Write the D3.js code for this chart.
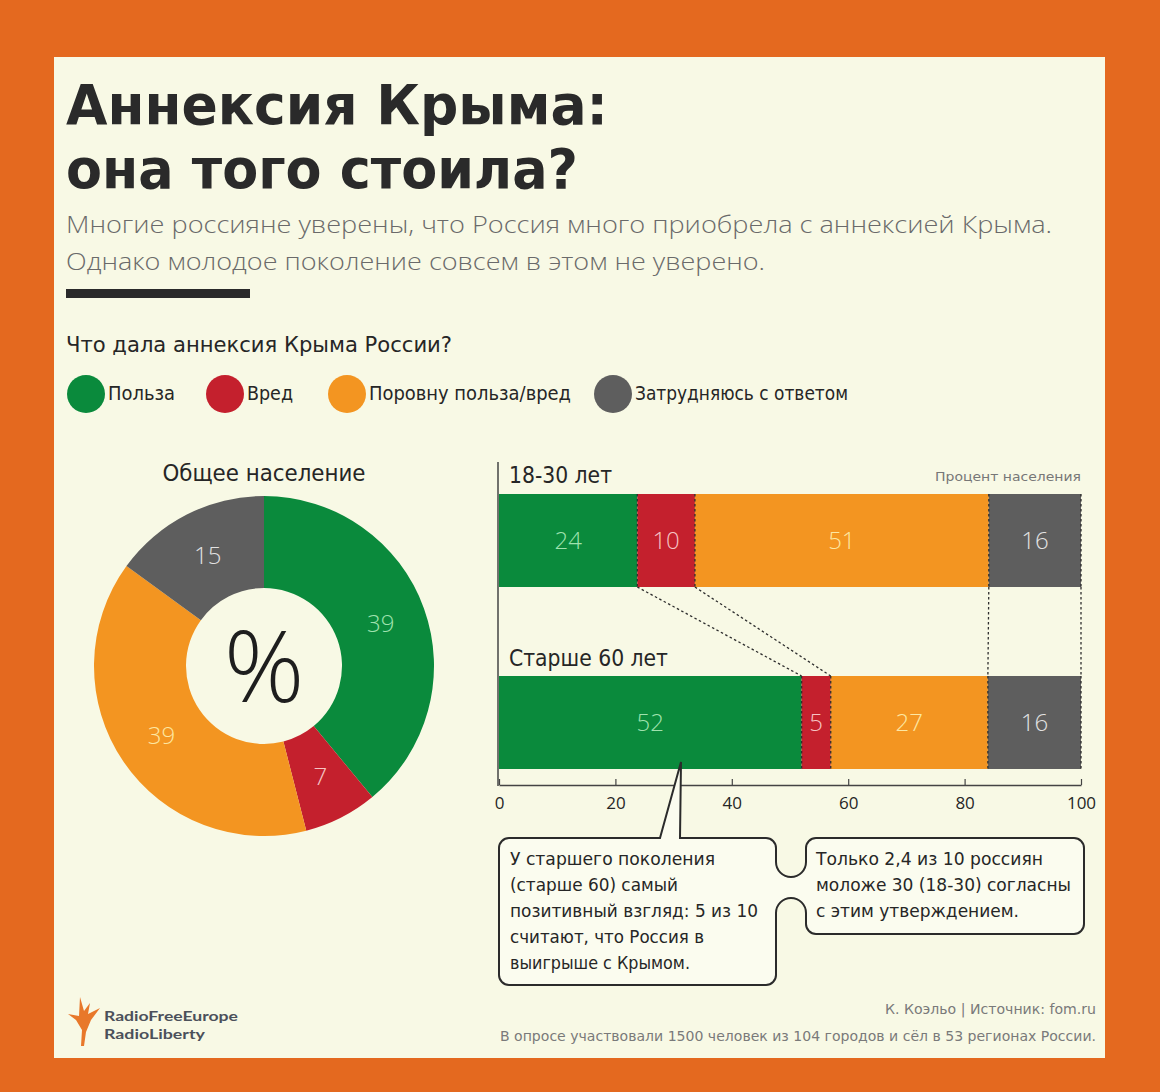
<!DOCTYPE html>
<html><head><meta charset="utf-8">
<script src="https://cdn.jsdelivr.net/npm/d3@7"></script>
<style>
html,body{margin:0;padding:0;background:#E4691F;}
svg{display:block;}
</style></head>
<body>
<script>
// ---- data ----
const categories = ["Польза", "Вред", "Поровну польза/вред", "Затрудняюсь с ответом"];
const totalValues = [39, 7, 39, 15];
const groups = ["18-30 лет", "Старше 60 лет"];
const youngValues = [24, 10, 51, 16];
const oldValues = [52, 5, 27, 16];
const tickValues = [0, 20, 40, 60, 80, 100];
const palette = ["#0A8A3C", "#C4202D", "#F39521", "#5E5E5E"];
const labelPalette = ["#9FE2AE", "#F6C3C3", "#FDE7A2", "#E2E2E2"];

const W = 1160, H = 1092;
const COND = "'Liberation Sans Narrow','DejaVu Sans Condensed','Open Sans',sans-serif";
const SANS = "'Open Sans','Noto Sans',sans-serif";
const INK = "#262626";

const svg = d3.select("body").append("svg").attr("width", W).attr("height", H);
svg.append("rect").attr("width", W).attr("height", H).attr("fill", "#E4691F");
svg.append("rect").attr("x", 54).attr("y", 57).attr("width", 1051).attr("height", 1001).attr("fill", "#F8F9E5");

function txt(x, y, s, o = {}) {
  const t = svg.append("text").attr("x", x).attr("y", y).text(s)
    .attr("font-family", o.family || COND)
    .attr("font-size", o.size || 16)
    .attr("font-weight", o.weight || 400)
    .attr("fill", o.fill || INK)
    .attr("text-anchor", o.anchor || "start");
  if (o.len) t.attr("textLength", o.len).attr("lengthAdjust", "spacingAndGlyphs");
  return t;
}

// ---- header ----
txt(66, 124, "Аннексия Крыма:", {size: 56, weight: 700, len: 542, fill: "#2a2a2a"});
txt(66, 188, "она того стоила?", {size: 56, weight: 700, len: 512, fill: "#2a2a2a"});
txt(66, 233, "Многие россияне уверены, что Россия много приобрела с аннексией Крыма.", {size: 24, len: 986, fill: "#6a6a6a", family: SANS, weight: 300});
txt(66, 270, "Однако молодое поколение совсем в этом не уверено.", {size: 24, len: 699, fill: "#6a6a6a", family: SANS, weight: 300});
svg.append("rect").attr("x", 66).attr("y", 289).attr("width", 184).attr("height", 9).attr("fill", "#2a2a2a");

txt(66, 352, "Что дала аннексия Крыма России?", {size: 21, len: 386});

// ---- legend ----
const legendX = [86, 225, 347, 613];
const legendLen = [67, 46, 202, 213];
categories.forEach((c, i) => {
  svg.append("circle").attr("cx", legendX[i]).attr("cy", 394).attr("r", 19).attr("fill", palette[i]);
  txt(legendX[i] + 22, 400, c, {size: 19, len: legendLen[i]});
});

// ---- donut ----
const cx = 264, cy = 666;
txt(cx, 481, "Общее население", {size: 23, anchor: "middle", len: 203});
const pie = d3.pie().sort(null).value(d => d);
const arc = d3.arc().innerRadius(78).outerRadius(170);
const labelArc = d3.arc().innerRadius(124).outerRadius(124);
const dg = svg.append("g").attr("transform", `translate(${cx},${cy})`);
const arcs = pie(totalValues);
dg.selectAll("path").data(arcs).join("path").attr("d", arc).attr("fill", (d, i) => palette[i]);
dg.selectAll("text").data(arcs).join("text")
  .attr("transform", d => `translate(${labelArc.centroid(d)})`)
  .attr("dy", "0.35em").attr("text-anchor", "middle")
  .attr("font-family", SANS).attr("font-weight", 300).attr("font-size", 24)
  .attr("fill", (d, i) => labelPalette[i]).text(d => d.data);
txt(cx, cy + 36, "%", {size: 100, anchor: "middle", family: SANS, weight: 300, fill: "#1e1e1e"});

// ---- stacked bars ----
const x = d3.scaleLinear().domain([0, 100]).range([499, 1081]);
const y = d3.scaleBand().domain(groups).range([494, 769]).paddingInner(0.489);
const rows = [youngValues, oldValues].map((vals, gi) => {
  const o = {group: groups[gi]};
  categories.forEach((c, i) => o[c] = vals[i]);
  return o;
});
const stack = d3.stack().keys(categories).offset(d3.stackOffsetExpand);
const series = stack(rows);
const bg = svg.append("g");
series.forEach((s, si) => {
  s.forEach(d => {
    const g = d.data.group;
    const x0 = x(d[0] * 100), x1 = x(d[1] * 100);
    bg.append("rect").attr("x", x0).attr("y", y(g)).attr("width", x1 - x0).attr("height", y.bandwidth()).attr("fill", palette[si]);
    bg.append("text").attr("x", (x0 + x1) / 2).attr("y", y(g) + y.bandwidth() / 2).attr("dy", "0.35em")
      .attr("text-anchor", "middle").attr("font-family", SANS).attr("font-weight", 300).attr("font-size", 24)
      .attr("fill", labelPalette[si]).text(d.data[s.key]);
  });
});
// dotted boundaries
const dash = {stroke: "#2e2e2e", "stroke-width": 1.3, "stroke-dasharray": "2.5,2.5"};
function dline(x1, y1, x2, y2) {
  const l = svg.append("line").attr("x1", x1).attr("y1", y1).attr("x2", x2).attr("y2", y2);
  Object.entries(dash).forEach(([k, v]) => l.attr(k, v));
}
series.forEach(s => {
  const a = s[0], b = s[1];
  const xa = x(a[1] * 100), xb = x(b[1] * 100);
  dline(xa, y(groups[0]), xa, y(groups[0]) + y.bandwidth());
  dline(xb, y(groups[1]), xb, y(groups[1]) + y.bandwidth());
  dline(xa, y(groups[0]) + y.bandwidth(), xb, y(groups[1]));
});

// group labels
txt(509, 483, groups[0], {size: 23, len: 103});
txt(509, 666, groups[1], {size: 23, len: 159});
txt(1081, 481, "Процент населения", {size: 13, anchor: "end", fill: "#777", len: 146});

// axes
svg.append("line").attr("x1", 498).attr("y1", 462).attr("x2", 498).attr("y2", 786).attr("stroke", "#444").attr("stroke-width", 1.5);
const axis = d3.axisBottom(x).tickValues(tickValues).tickSizeInner(-6).tickSizeOuter(0).tickPadding(12);
const ax = svg.append("g").attr("transform", "translate(0,785)").call(axis);
ax.select(".domain").attr("stroke", "#444").attr("stroke-width", 1.5);
ax.selectAll(".tick line").attr("stroke", "#444").attr("stroke-width", 1.2);
ax.selectAll(".tick text").attr("font-family", SANS).attr("font-size", 17).attr("fill", INK);

// ---- callouts ----
const cp = d3.path();
cp.moveTo(509, 838);
cp.lineTo(660, 838); cp.lineTo(681, 762); cp.lineTo(680, 838);
cp.lineTo(766, 838); cp.arcTo(776, 838, 776, 848, 10);
cp.lineTo(776, 862);
cp.arc(791, 862, 15, Math.PI, 0, true);
cp.lineTo(806, 848); cp.arcTo(806, 838, 816, 838, 10);
cp.lineTo(1074, 838); cp.arcTo(1084, 838, 1084, 848, 10);
cp.lineTo(1084, 924); cp.arcTo(1084, 934, 1074, 934, 10);
cp.lineTo(816, 934); cp.arcTo(806, 934, 806, 924, 10);
cp.lineTo(806, 913);
cp.arc(791, 913, 15, 0, Math.PI, true);
cp.lineTo(776, 975); cp.arcTo(776, 985, 766, 985, 10);
cp.lineTo(509, 985); cp.arcTo(499, 985, 499, 975, 10);
cp.lineTo(499, 848); cp.arcTo(499, 838, 509, 838, 10);
cp.closePath();
svg.append("path").attr("d", cp.toString()).attr("fill", "#FBFCEF").attr("stroke", "#2b2b2b").attr("stroke-width", 2);

const note1 = ["У старшего поколения", "(старше 60) самый", "позитивный взгляд: 5 из 10", "считают, что Россия в", "выигрыше с Крымом."];
const note1Len = [205, 168, 248, 194, 180];
note1.forEach((s, i) => txt(510, 865 + i * 26, s, {size: 18, len: note1Len[i]}));
const note2 = ["Только 2,4 из 10 россиян", "моложе 30 (18-30) согласны", "с этим утверждением."];
const note2Len = [227, 255, 203];
note2.forEach((s, i) => txt(816, 865 + i * 26, s, {size: 18, len: note2Len[i]}));

// ---- footer ----
txt(1096, 1014, "К. Коэльо | Источник: fom.ru", {size: 14, anchor: "end", fill: "#7a7a7a", len: 211});
txt(1096, 1041, "В опросе участвовали 1500 человек из 104 городов и сёл в 53 регионах России.", {size: 14, anchor: "end", fill: "#7a7a7a", len: 596});

// logo
const lg = svg.append("g").attr("fill", "#E8782A");
lg.append("path").attr("d", "M80,997 L84,1011 L90,1003 L88,1014 L100,1008 L91,1020 L86,1032 L84,1046 L81,1046 L82,1030 L76,1020 L68,1014 L79,1016 Z");
txt(104, 1021, "RadioFreeEurope", {size: 14, weight: 700, fill: "#4b505a", family: "Lato, sans-serif", len: 134});
txt(104, 1039, "RadioLiberty", {size: 14, weight: 700, fill: "#4b505a", family: "Lato, sans-serif", len: 101});
</script>
</body></html>
